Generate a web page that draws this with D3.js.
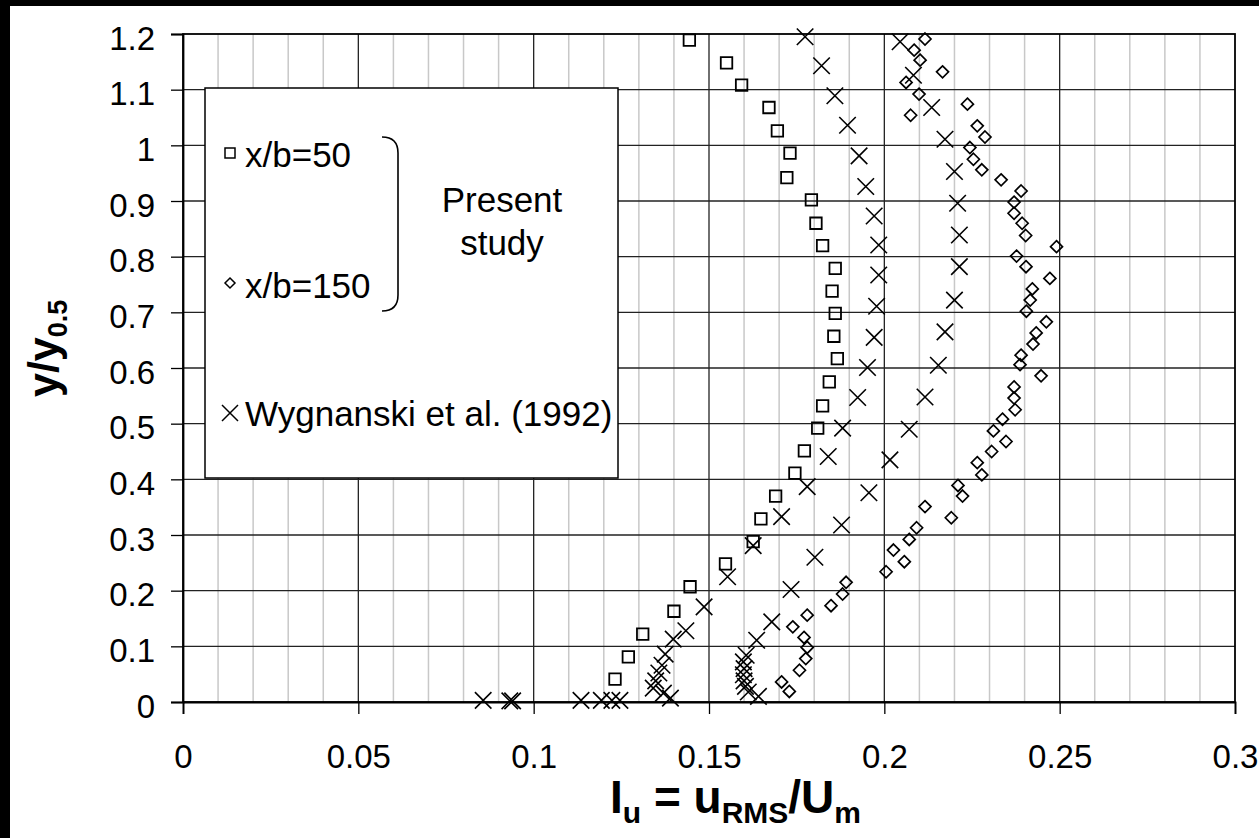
<!DOCTYPE html>
<html><head><meta charset="utf-8">
<script src="https://cdn.jsdelivr.net/npm/d3@7"></script>
<style>html,body{margin:0;padding:0;background:#fff;}svg{display:block;font-family:"Liberation Sans",Arial,sans-serif;}</style>
</head><body>
<svg id="c" width="1259" height="838"></svg>
<script>
// ---- data ----
const xTickValues = [0, 0.05, 0.1, 0.15, 0.2, 0.25, 0.3];
const xTickLabels = ["0", "0.05", "0.1", "0.15", "0.2", "0.25", "0.3"];
const yTickValues = [0, 0.1, 0.2, 0.3, 0.4, 0.5, 0.6, 0.7, 0.8, 0.9, 1.0, 1.1, 1.2];
const yTickLabels = ["0", "0.1", "0.2", "0.3", "0.4", "0.5", "0.6", "0.7", "0.8", "0.9", "1", "1.1", "1.2"];

const seriesNames = ["x/b=50", "x/b=150", "Wygnanski et al. (1992)"];

const xb50_Iu = [0.1444,0.1550,0.1593,0.1671,0.1695,0.1731,0.1722,0.1792,0.1805,0.1824,0.1860,0.1851,0.1860,0.1856,0.1866,0.1843,0.1824,0.1810,0.1772,0.1745,0.1690,0.1648,0.1626,0.1547,0.1446,0.1400,0.1311,0.1270,0.1232];
const xb50_y  = [1.189,1.148,1.108,1.068,1.026,0.986,0.942,0.902,0.860,0.820,0.779,0.738,0.698,0.657,0.617,0.575,0.532,0.492,0.451,0.411,0.370,0.329,0.288,0.248,0.207,0.163,0.122,0.081,0.041];

const xb150_Iu = [0.2116,0.2085,0.2102,0.2166,0.2062,0.2099,0.2075,0.2237,0.2265,0.2287,0.2244,0.2254,0.2278,0.2333,0.2390,0.2370,0.2370,0.2393,0.2403,0.2491,0.2377,0.2404,0.2472,0.2422,0.2416,0.2405,0.2462,0.2433,0.2424,0.2390,0.2387,0.2447,0.2370,0.2370,0.2373,0.2337,0.2311,0.2347,0.2306,0.2265,0.2278,0.2210,0.2223,0.2116,0.2191,0.2092,0.2071,0.2026,0.2057,0.2005,0.1891,0.1881,0.1848,0.1780,0.1739,0.1771,0.1780,0.1776,0.1758,0.1707,0.1729];
const xb150_y  = [1.191,1.171,1.153,1.132,1.113,1.092,1.054,1.074,1.035,1.015,0.996,0.975,0.956,0.938,0.918,0.898,0.878,0.860,0.838,0.818,0.801,0.782,0.761,0.742,0.722,0.702,0.683,0.663,0.643,0.623,0.606,0.586,0.566,0.546,0.525,0.508,0.487,0.468,0.450,0.430,0.408,0.389,0.370,0.351,0.331,0.313,0.292,0.273,0.252,0.234,0.215,0.194,0.173,0.156,0.135,0.116,0.098,0.078,0.057,0.036,0.019];

const wygA_Iu = [0.1774,0.1821,0.1859,0.1895,0.1928,0.1947,0.1971,0.1984,0.1984,0.1978,0.1971,0.1952,0.1924,0.1881,0.1840,0.1780,0.1707,0.1626,0.1553,0.1486,0.1434,0.1398,0.1375,0.1366,0.1357,0.1348,0.1341,0.1370,0.1390,0.1246,0.1223,0.1193,0.1135,0.0940,0.0932,0.0856];
const wygA_y  = [1.195,1.143,1.089,1.036,0.981,0.926,0.873,0.821,0.767,0.711,0.655,0.601,0.547,0.492,0.441,0.387,0.333,0.281,0.225,0.171,0.128,0.113,0.086,0.066,0.052,0.038,0.025,0.016,0.007,0.003,0.003,0.003,0.003,0.002,0.002,0.003];

const wygB_Iu = [0.2045,0.2083,0.2135,0.2173,0.2200,0.2209,0.2214,0.2214,0.2200,0.2173,0.2154,0.2116,0.2071,0.2016,0.1956,0.1878,0.1802,0.1734,0.1679,0.1636,0.1606,0.1598,0.1600,0.1598,0.1600,0.1604,0.1612,0.1641];
const wygB_y  = [1.186,1.126,1.068,1.011,0.953,0.896,0.839,0.782,0.722,0.665,0.605,0.548,0.490,0.435,0.376,0.318,0.260,0.202,0.144,0.111,0.084,0.072,0.060,0.049,0.038,0.028,0.018,0.010];

// ---- chart ----
const svg = d3.select("#c");
const W = 1259, H = 838;
const plot = {l: 183, r: 1235, t: 34, b: 702};
const x = d3.scaleLinear().domain([0, 0.3]).range([plot.l, plot.r]);
const y = d3.scaleLinear().domain([0, 1.2]).range([plot.b, plot.t]);

svg.append("rect").attr("width", W).attr("height", H).attr("fill", "#fff");
// black frame edges (top, left)
svg.append("rect").attr("x", 0).attr("y", 0).attr("width", W).attr("height", 6).attr("fill", "#000");
svg.append("rect").attr("x", 0).attr("y", 0).attr("width", 10).attr("height", H).attr("fill", "#000");

// minor vertical grid
const minorX = d3.range(1, 30).map(i => i / 100).filter(v => Math.round(v * 1000) % 50 !== 0);
svg.append("g").selectAll("line").data(minorX).join("line")
  .attr("x1", d => x(d)).attr("x2", d => x(d)).attr("y1", plot.t).attr("y2", plot.b)
  .attr("stroke", "#c8c8c8").attr("stroke-width", 1.5);
// major vertical grid
svg.append("g").selectAll("line").data(xTickValues.slice(1, -1)).join("line")
  .attr("x1", d => x(d)).attr("x2", d => x(d)).attr("y1", plot.t).attr("y2", plot.b)
  .attr("stroke", "#222").attr("stroke-width", 1.3);
// horizontal grid
svg.append("g").selectAll("line").data(yTickValues.slice(1, -1)).join("line")
  .attr("x1", plot.l).attr("x2", plot.r).attr("y1", d => y(d)).attr("y2", d => y(d))
  .attr("stroke", "#222").attr("stroke-width", 1.3);
// plot border
svg.append("rect").attr("x", plot.l).attr("y", plot.t).attr("width", plot.r - plot.l).attr("height", plot.b - plot.t)
  .attr("fill", "none").attr("stroke", "#000").attr("stroke-width", 1.8);

// axes
const yAxis = svg.append("g").attr("transform", `translate(${plot.l},0)`)
  .call(d3.axisLeft(y).tickValues(yTickValues).tickFormat((d, i) => yTickLabels[i]).tickSize(12).tickPadding(16));
yAxis.select(".domain").attr("stroke", "#000").attr("stroke-width", 1.8);
yAxis.selectAll(".tick line").attr("stroke", "#000").attr("stroke-width", 1.3);
yAxis.selectAll("text").attr("dy", 0).attr("y", 15).attr("font-size", 33).attr("fill", "#000")
  .attr("font-family", "Liberation Sans, Arial, sans-serif");

const xAxis = svg.append("g").attr("transform", `translate(0,${plot.b})`)
  .call(d3.axisBottom(x).tickValues(xTickValues).tickFormat((d, i) => xTickLabels[i]).tickSize(12));
xAxis.select(".domain").attr("stroke", "#000").attr("stroke-width", 1.8);
xAxis.selectAll(".tick line").attr("stroke", "#000").attr("stroke-width", 1.3);
xAxis.selectAll("text").attr("dy", 0).attr("y", 66).attr("font-size", 33).attr("fill", "#000")
  .attr("font-family", "Liberation Sans, Arial, sans-serif");

// legend box
const lg = svg.append("g");
lg.append("rect").attr("x", 205).attr("y", 88).attr("width", 413).attr("height", 390)
  .attr("fill", "#fff").attr("stroke", "#000").attr("stroke-width", 1.5);

// markers
function squarePath(s) { const h = s / 2; return `M${-h},${-h}H${h}V${h}H${-h}Z`; }
function diamondPath(s) { const h = s / 2; return `M0,${-h}L${h},0L0,${h}L${-h},0Z`; }
function crossPath(s) { const h = s / 2; return `M${-h},${-h}L${h},${h}M${-h},${h}L${h},${-h}`; }

function drawSeries(xs, ys, path, sw) {
  svg.append("g").selectAll("path").data(xs.map((v, i) => [v, ys[i]])).join("path")
    .attr("transform", d => `translate(${x(d[0])},${y(d[1])})`)
    .attr("d", path).attr("fill", "none").attr("stroke", "#000").attr("stroke-width", sw);
}
drawSeries(xb50_Iu, xb50_y, squarePath(11.5), 1.8);
drawSeries(xb150_Iu, xb150_y, diamondPath(12), 1.7);
drawSeries(wygA_Iu, wygA_y, crossPath(16.5), 1.6);
drawSeries(wygB_Iu, wygB_y, crossPath(16.5), 1.6);

// legend contents
const lfs = 35;
lg.append("path").attr("transform", "translate(230,153)").attr("d", squarePath(10)).attr("fill", "none").attr("stroke", "#000").attr("stroke-width", 1.5);
lg.append("text").attr("x", 245).attr("y", 167).attr("font-size", lfs).text(seriesNames[0]);
lg.append("path").attr("transform", "translate(230,283)").attr("d", diamondPath(10)).attr("fill", "none").attr("stroke", "#000").attr("stroke-width", 1.5);
lg.append("text").attr("x", 245).attr("y", 298).attr("font-size", lfs).text(seriesNames[1]);
lg.append("path").attr("transform", "translate(230,413)").attr("d", crossPath(16)).attr("fill", "none").attr("stroke", "#000").attr("stroke-width", 1.5);
lg.append("text").attr("x", 245).attr("y", 426).attr("font-size", lfs).text(seriesNames[2]);
lg.append("path").attr("d", "M382,137 Q398,137 398,153 L398,295 Q398,311 382,311")
  .attr("fill", "none").attr("stroke", "#000").attr("stroke-width", 1.6);
lg.append("text").attr("x", 502).attr("y", 212).attr("text-anchor", "middle").attr("font-size", lfs).text("Present");
lg.append("text").attr("x", 502).attr("y", 255).attr("text-anchor", "middle").attr("font-size", lfs).text("study");

// axis titles
const xt = svg.append("text").attr("x", 610).attr("y", 813).attr("font-size", 46).attr("font-weight", "bold");
xt.append("tspan").text("I");
xt.append("tspan").attr("font-size", 30).attr("dy", 10).text("u");
xt.append("tspan").attr("dy", -10).text(" = u");
xt.append("tspan").attr("font-size", 30).attr("dy", 10).text("RMS");
xt.append("tspan").attr("dy", -10).text("/U");
xt.append("tspan").attr("font-size", 30).attr("dy", 10).text("m");

const yt = svg.append("text").attr("transform", "translate(58,397) rotate(-90)").attr("font-size", 43).attr("font-weight", "bold");
yt.append("tspan").text("y/y");
yt.append("tspan").attr("font-size", 27).attr("dy", 9).text("0.5");
</script>
</body></html>
